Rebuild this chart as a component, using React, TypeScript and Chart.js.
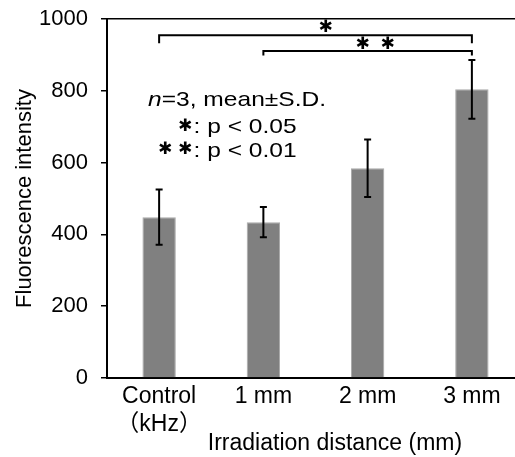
import React, { useEffect, useRef } from "react";
import { Chart, registerables } from "chart.js";

Chart.register(...registerables);

// ---- data ----
const categories: (string | string[])[] = [["Control", "（kHz）"], "1 mm", "2 mm", "3 mm"];
const means = [448, 434, 584, 804];
const sds = [77, 42, 80, 82];
const yMin = 0;
const yMax = 1000;
const yStep = 200;
const xTitle = "Irradiation distance (mm)";
const yTitle = "Fluorescence intensity";
// significance brackets: from category index, to category index, level (y value), number of marks
const bracketFrom = [0, 1];
const bracketTo = [3, 3];
const bracketLevel = [955, 911];
const bracketStars = [1, 2];
const noteItalic = "n";
const noteRest = "=3, mean±S.D.";
const noteP05 = ": p < 0.05";
const noteP01 = ": p < 0.01";
const STAR = "✱";

const FAMILY = "'Liberation Sans', Arial, 'Noto Sans CJK JP', sans-serif";
const STAR_FONT = "'DejaVu Sans', sans-serif";

function scaledText(
  ctx: CanvasRenderingContext2D,
  text: string,
  x: number,
  y: number,
  font: string,
  sx: number,
  align: CanvasTextAlign = "left",
  baseline: CanvasTextBaseline = "alphabetic"
) {
  ctx.save();
  ctx.translate(x, y);
  ctx.scale(sx, 1);
  ctx.font = font;
  ctx.textAlign = align;
  ctx.textBaseline = baseline;
  ctx.fillText(text, 0, 0);
  const w = ctx.measureText(text).width * sx;
  ctx.restore();
  return w;
}

function star(ctx: CanvasRenderingContext2D, x: number, y: number, size: number) {
  ctx.save();
  ctx.font = `${size}px ${STAR_FONT}`;
  ctx.textAlign = "center";
  ctx.textBaseline = "middle";
  ctx.fillText(STAR, x, y);
  ctx.restore();
}

const overlay = {
  id: "overlay",
  afterDatasetsDraw(chart: any) {
    const { ctx, scales, chartArea } = chart;
    const x = scales.x;
    const y = scales.y;
    ctx.save();
    ctx.strokeStyle = "#000";
    ctx.fillStyle = "#000";
    ctx.lineWidth = 2;
    ctx.lineCap = "butt";
    ctx.lineJoin = "miter";
    // error bars
    means.forEach((m, i) => {
      const cx = x.getPixelForValue(i);
      const top = y.getPixelForValue(m + sds[i]);
      const bot = y.getPixelForValue(m - sds[i]);
      ctx.beginPath();
      ctx.moveTo(cx, top);
      ctx.lineTo(cx, bot);
      ctx.moveTo(cx - 3.5, top);
      ctx.lineTo(cx + 3.5, top);
      ctx.moveTo(cx - 3.5, bot);
      ctx.lineTo(cx + 3.5, bot);
      ctx.stroke();
    });
    // significance brackets
    const legs = [8, 4.5];
    bracketFrom.forEach((f, k) => {
      const x1 = x.getPixelForValue(f);
      const x2 = x.getPixelForValue(bracketTo[k]);
      const yy = y.getPixelForValue(bracketLevel[k]);
      ctx.beginPath();
      ctx.moveTo(x1, yy + legs[k]);
      ctx.lineTo(x1, yy);
      ctx.lineTo(x2, yy);
      ctx.lineTo(x2, yy + legs[k]);
      ctx.stroke();
      const mid = (x1 + x2) / 2;
      if (bracketStars[k] === 1) {
        star(ctx, mid + 10, yy - 7.5, 17);
      } else {
        star(ctx, mid - 5, yy - 6, 17);
        star(ctx, mid + 20, yy - 6, 17);
      }
    });
    // note text
    const L = chartArea.left;
    const T = chartArea.top;
    const sx = 1.17;
    let px = L + 41;
    px += scaledText(ctx, noteItalic, px, T + 87, `italic 21px ${FAMILY}`, sx);
    scaledText(ctx, noteRest, px, T + 87, `21px ${FAMILY}`, sx);
    star(ctx, L + 78, T + 107.5, 17);
    scaledText(ctx, noteP05, L + 86.5, T + 114, `21px ${FAMILY}`, sx);
    star(ctx, L + 58, T + 131, 17);
    star(ctx, L + 78, T + 131, 17);
    scaledText(ctx, noteP01, L + 86.5, T + 137.5, `21px ${FAMILY}`, sx);
    // x-axis title
    ctx.font = `23px ${FAMILY}`;
    ctx.textAlign = "center";
    ctx.textBaseline = "middle";
    ctx.fillText(xTitle, L + 228, 444);
    ctx.restore();
  },
};

export default function App() {
  const ref = useRef<HTMLCanvasElement | null>(null);
  useEffect(() => {
    if (!ref.current) return;
    const font = { family: FAMILY, size: 22 };
    const chart = new Chart(ref.current, {
      type: "bar",
      data: {
        labels: categories,
        datasets: [
          {
            data: means,
            backgroundColor: "#808080",
            borderColor: "#a8a8a8",
            borderWidth: 1,
            categoryPercentage: 1,
            barPercentage: 0.32,
          },
        ],
      },
      options: {
        animation: false,
        responsive: false,
        maintainAspectRatio: false,
        layout: { padding: { top: 19, right: 0, bottom: 0, left: 12 } },
        plugins: { legend: { display: false }, tooltip: { enabled: false } },
        scales: {
          x: {
            grid: { display: true, drawOnChartArea: false, drawTicks: false },
            border: { display: true, color: "#000", width: 2 },
            ticks: { color: "#000", font: { family: FAMILY, size: 23 }, padding: 5, maxRotation: 0, autoSkip: false },
            title: { display: false, text: xTitle },
            afterFit: (s: any) => {
              s.height = 79;
              s.paddingLeft = 0;
              s.paddingRight = 0;
            },
          },
          y: {
            min: yMin,
            max: yMax,
            ticks: { stepSize: yStep, color: "#000", font, padding: 13, callback: (v: any) => String(v) },
            grid: {
              color: (c: any) => (c.tick && c.tick.value === yMax ? "#000" : "rgba(0,0,0,0)"),
              lineWidth: 1.5,
              tickColor: "#000",
              tickLength: 6,
              tickWidth: 1.5,
            },
            border: { display: true, color: "#000", width: 2 },
            title: { display: true, text: yTitle, color: "#000", font, padding: 0 },
            afterFit: (s: any) => {
              s.width = 95;
              s.paddingTop = 0;
              s.paddingBottom = 0;
            },
          },
        },
      } as any,
      plugins: [overlay],
    });
    return () => chart.destroy();
  }, []);
  return (
    <div style={{ position: "fixed", left: 0, top: 0, width: 515, height: 457, overflow: "hidden", background: "#fff" }}>
      <canvas ref={ref} width={524} height={457} style={{ display: "block" }} />
    </div>
  );
}
